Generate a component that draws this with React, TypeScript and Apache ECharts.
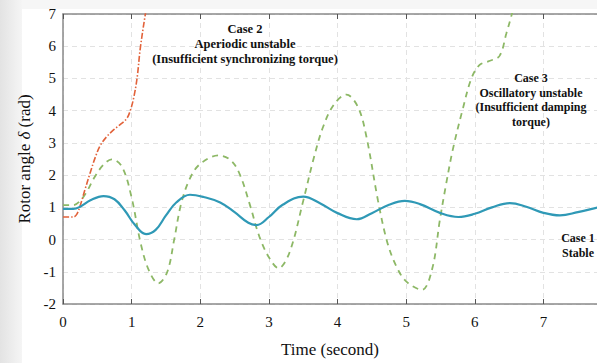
import React, { useEffect, useRef } from "react";
import * as echarts from "echarts";

const xTicks = [0, 1, 2, 3, 4, 5, 6, 7];
const yTicks = [-2, -1, 0, 1, 2, 3, 4, 5, 6, 7];

// Case 1 – stable (t, δ)
const case1T = [0, 0.15, 0.25, 0.4, 0.59, 0.75, 0.9, 1.05, 1.21, 1.35, 1.5, 1.65, 1.85, 2.05, 2.29, 2.5, 2.7, 2.82, 3.0, 3.2, 3.5, 3.75, 4.0, 4.28, 4.5, 4.75, 4.98, 5.2, 5.5, 5.76, 6.0, 6.25, 6.51, 6.75, 7.0, 7.24, 7.5, 7.8, 8.0];
const case1V = [0.95, 0.95, 1.02, 1.22, 1.35, 1.25, 0.9, 0.45, 0.17, 0.3, 0.75, 1.15, 1.39, 1.32, 1.15, 0.85, 0.52, 0.45, 0.7, 1.08, 1.33, 1.12, 0.82, 0.63, 0.82, 1.08, 1.2, 1.1, 0.82, 0.7, 0.8, 1.0, 1.13, 1.02, 0.83, 0.75, 0.85, 1.0, 1.1];

// Case 2 – aperiodic unstable
const case2T = [0, 0.15, 0.2, 0.25, 0.32, 0.4, 0.47, 0.54, 0.64, 0.74, 0.84, 0.93, 0.98, 1.03, 1.08, 1.125, 1.2, 1.25];
const case2V = [0.7, 0.7, 0.78, 1.05, 1.55, 2.1, 2.55, 2.91, 3.2, 3.41, 3.58, 3.76, 4.0, 4.4, 5.02, 5.92, 7.0, 7.6];

// Case 3 – oscillatory unstable
const case3T = [0, 0.15, 0.25, 0.35, 0.45, 0.58, 0.71, 0.86, 1.0, 1.13, 1.25, 1.39, 1.52, 1.62, 1.72, 1.85, 2.0, 2.27, 2.45, 2.58, 2.72, 2.86, 3.0, 3.14, 3.3, 3.5, 3.65, 3.79, 3.95, 4.13, 4.3, 4.42, 4.59, 4.72, 4.85, 5.0, 5.23, 5.38, 5.49, 5.58, 5.68, 5.83, 5.95, 6.07, 6.21, 6.36, 6.46, 6.54, 6.6];
const case3V = [1.07, 1.07, 1.2, 1.5, 1.9, 2.3, 2.49, 2.26, 1.3, -0.1, -0.95, -1.36, -1.0, 0.0, 1.1, 1.9, 2.35, 2.61, 2.45, 2.0, 1.1, 0.1, -0.55, -0.89, -0.4, 1.2, 2.5, 3.5, 4.2, 4.5, 4.1, 3.2, 1.2, -0.05, -0.8, -1.3, -1.56, -0.9, 0.6, 1.7, 2.8, 4.1, 5.0, 5.42, 5.54, 5.7, 6.4, 7.0, 7.5];

const case2Lines = ["Case 2", "Aperiodic unstable", "(Insufficient synchronizing torque)"];
const case3Lines = ["Case 3", "Oscillatory unstable", "(Insufficient damping", "torque)"];
const case1Lines = ["Case 1", "Stable"];

const zip = (t: number[], v: number[]) => t.map((x, i) => [x, v[i]]);

const serif = "'Liberation Serif', 'DejaVu Serif', serif";

function textBlock(lines: string[], cx: number, y0: number, lh: number, size: number) {
  return lines.map((s, i) => ({
    type: "text",
    x: cx,
    y: y0 + i * lh,
    z: 100,
    style: {
      text: s,
      fill: "#111",
      font: `bold ${size}px ${serif}`,
      textAlign: "center",
      textVerticalAlign: "middle",
    },
  }));
}

export default function App() {
  const ref = useRef<HTMLDivElement>(null);
  useEffect(() => {
    document.body.style.margin = "0";
    const chart = echarts.init(ref.current!, undefined, { renderer: "svg" });
    chart.setOption({
      animation: false,
      backgroundColor: "#ffffff",
      grid: { left: 63, top: 14, right: 0, height: 299 },
      xAxis: [
        {
          type: "value",
          min: 0,
          max: 7.78,
          interval: 1,
          name: "Time (second)",
          nameLocation: "middle",
          nameGap: 37,
          nameTextStyle: { fontFamily: serif, fontSize: 17, color: "#111" },
          axisLine: { show: true, onZero: false, lineStyle: { color: "#8a8a8a", width: 1.5 } },
          axisTick: { show: true, inside: true, length: 5, lineStyle: { color: "#555" } },
          axisLabel: {
            fontFamily: serif,
            fontSize: 15,
            color: "#111",
            margin: 10,
            showMaxLabel: false,
            formatter: (v: number) => (xTicks.includes(v) ? String(v) : ""),
          },
          splitLine: { show: true, lineStyle: { color: "#e2e2e2", type: [5, 4], width: 1 } },
        },
        {
          type: "value",
          position: "top",
          min: 0,
          max: 7.78,
          interval: 1,
          axisLine: { show: true, onZero: false, lineStyle: { color: "#8a8a8a", width: 1.5 } },
          axisTick: { show: true, inside: true, length: 5, lineStyle: { color: "#555" } },
          axisLabel: { show: false },
          splitLine: { show: false },
        },
      ],
      yAxis: {
        type: "value",
        min: -2,
        max: 7,
        interval: 1,
        name: "Rotor angle {i|δ} (rad)",
        nameLocation: "middle",
        nameGap: 28,
        nameTextStyle: {
          fontFamily: serif,
          fontSize: 17,
          color: "#111",
          rich: { i: { fontFamily: serif, fontSize: 17, fontStyle: "italic", color: "#111" } },
        },
        axisLine: { show: true, onZero: false, lineStyle: { color: "#8a8a8a", width: 1.5 } },
        axisTick: { show: false },
        axisLabel: { fontFamily: serif, fontSize: 15, color: "#111", margin: 7, formatter: (v: number) => (yTicks.includes(v) ? String(v) : "") },
        splitLine: { show: true, lineStyle: { color: "#e2e2e2", type: [5, 4], width: 1 } },
      },
      graphic: [
        {
          type: "rect",
          z: -10,
          silent: true,
          shape: { x: 0, y: 0, width: 22, height: 363 },
          style: {
            fill: new echarts.graphic.LinearGradient(0, 0, 1, 0, [
              { offset: 0, color: "#e3e3e3" },
              { offset: 1, color: "#f5f5f5" },
            ]),
          },
        },
        {
          type: "rect",
          z: -10,
          silent: true,
          shape: { x: 22, y: 0, width: 575, height: 9 },
          style: { fill: "#f6f6f6" },
        },
        ...textBlock(case2Lines, 245, 29, 15, 12.5),
        ...textBlock(case3Lines, 531, 78, 14.7, 12),
        ...textBlock(case1Lines, 578, 238, 14.7, 12),
      ],
      series: [
        {
          type: "line",
          xAxisIndex: 0,
          data: zip(case3T, case3V),
          smooth: 0.35,
          showSymbol: false,
          clip: true,
          lineStyle: { color: "#8db866", width: 1.8, type: [6, 5] },
          z: 3,
        },
        {
          type: "line",
          xAxisIndex: 0,
          data: zip(case2T, case2V),
          smooth: 0.35,
          showSymbol: false,
          clip: true,
          lineStyle: { color: "#e2623a", width: 1.6, type: [6, 2, 1.5, 2] },
          z: 4,
        },
        {
          type: "line",
          xAxisIndex: 0,
          data: zip(case1T, case1V),
          smooth: 0.4,
          showSymbol: false,
          clip: true,
          lineStyle: { color: "#2f99b6", width: 2.2 },
          z: 5,
        },
      ],
    });
    return () => chart.dispose();
  }, []);
  return <div ref={ref} style={{ width: 597, height: 363 }} />;
}
